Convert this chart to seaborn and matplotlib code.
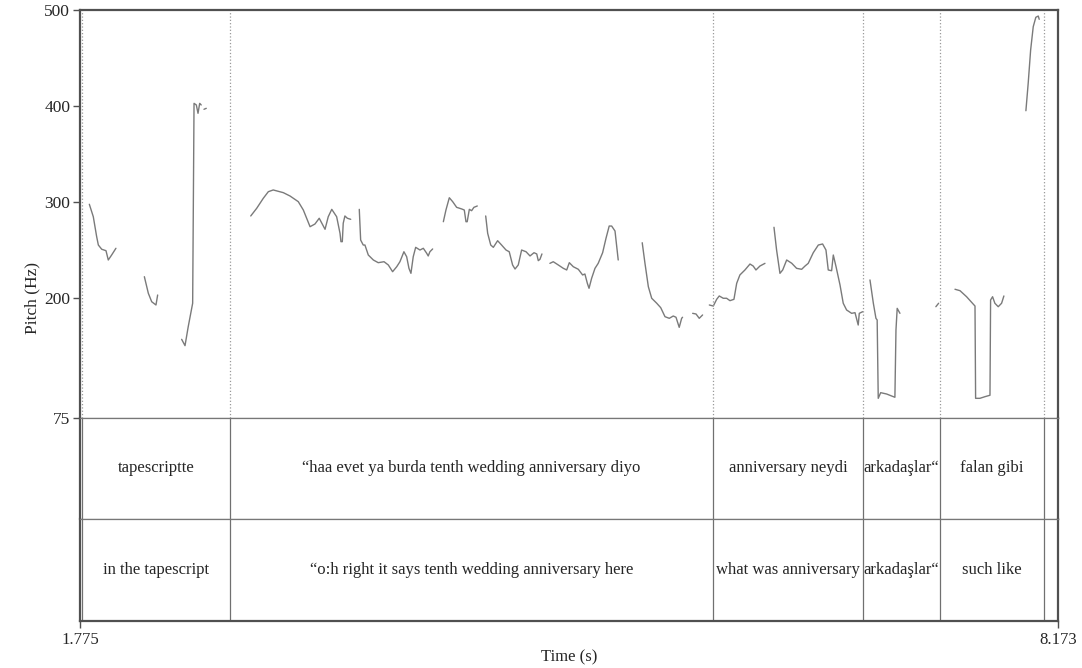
import numpy as np
import pandas as pd
import matplotlib
matplotlib.use('Agg')
import matplotlib.pyplot as plt
import seaborn as sns

## data: pitch contour pieces (time s, pitch Hz)
a_t = [1.836, 1.862, 1.884, 1.895, 1.917, 1.945, 1.960, 1.982, 2.010]
a_hz = [297.5, 284.5, 263.7, 255.0, 250.6, 249.1, 239.4, 244.6, 251.6]
b_t = [2.196, 2.222, 2.244, 2.272, 2.283]
b_hz = [222.0, 204.7, 195.9, 192.5, 202.9]
c_t = [2.440, 2.462, 2.483, 2.512, 2.521, 2.536, 2.547, 2.558, 2.568]
c_hz = [156.7, 150.1, 169.9, 194.3, 402.7, 401.0, 392.3, 402.7, 401.0]
c2_t = [2.586, 2.601]
c2_hz = [396.5, 397.5]
d_t = [2.892, 2.931, 2.974, 3.007, 3.039, 3.105, 3.149, 3.203, 3.236, 3.280, 3.312, 3.340,
       3.378, 3.399, 3.422, 3.454, 3.476, 3.482, 3.491, 3.497, 3.508, 3.524, 3.546]
d_hz = [285.3, 293.3, 303.7, 310.6, 312.4, 309.6, 306.1, 300.2, 291.5, 274.1, 276.9, 282.9,
        271.4, 284.5, 292.2, 284.5, 267.2, 258.5, 258.5, 277.7, 285.3, 282.9, 281.8]
e_t = [3.602, 3.611, 3.628, 3.639, 3.661, 3.694, 3.726, 3.764, 3.792, 3.820, 3.847, 3.868,
       3.894, 3.912, 3.927, 3.940, 3.955, 3.971, 3.999, 4.021, 4.043, 4.053, 4.064, 4.082]
e_hz = [292.2, 260.2, 255.0, 255.0, 244.6, 239.4, 236.6, 237.6, 234.2, 227.2, 232.4, 237.6,
        248.0, 242.8, 230.7, 225.5, 242.8, 252.6, 249.8, 251.6, 246.4, 243.6, 248.0, 250.9]
f_t = [4.152, 4.169, 4.191, 4.213, 4.239, 4.272, 4.289, 4.300, 4.308, 4.322, 4.337, 4.352, 4.374]
f_hz = [279.3, 291.5, 304.3, 300.2, 294.3, 292.6, 291.5, 279.3, 279.3, 292.2, 290.8, 294.3, 295.7]
g_t = [4.429, 4.442, 4.462, 4.479, 4.507, 4.533, 4.562, 4.583, 4.605, 4.621, 4.642, 4.664,
       4.693, 4.719, 4.745, 4.763, 4.773, 4.784, 4.797]
g_hz = [285.3, 267.2, 255.0, 252.6, 259.5, 255.0, 249.8, 248.0, 234.2, 230.0, 234.2, 249.8,
        248.0, 243.6, 247.0, 245.7, 238.7, 240.1, 245.7]
h_t = [4.849, 4.871, 4.904, 4.937, 4.959, 4.976, 5.002, 5.035, 5.063, 5.078, 5.094, 5.105,
       5.122, 5.144, 5.165, 5.194, 5.216, 5.237, 5.253, 5.275, 5.296]
h_hz = [235.9, 237.6, 234.2, 230.7, 229.0, 236.6, 232.4, 229.7, 223.8, 224.8, 215.1, 209.9,
        220.3, 230.7, 235.9, 247.0, 262.0, 274.8, 274.8, 269.6, 239.4]
i_t = [5.453, 5.471, 5.493, 5.515, 5.548, 5.574, 5.602, 5.630, 5.656, 5.674, 5.695, 5.711, 5.717]
i_hz = [257.4, 235.9, 211.6, 199.5, 194.3, 189.7, 180.3, 178.6, 181.0, 179.7, 169.2, 178.6, 179.7]
j_t = [5.783, 5.805, 5.826, 5.848]
j_hz = [183.8, 183.1, 178.6, 182.1]
k_t = [5.892, 5.918, 5.940, 5.957, 5.983, 6.005, 6.027, 6.053, 6.071, 6.092, 6.125, 6.158,
       6.179, 6.197, 6.223, 6.256]
k_hz = [192.5, 191.4, 198.4, 201.9, 199.5, 199.5, 197.0, 198.4, 215.1, 223.8, 229.0, 235.2,
        233.1, 229.0, 233.1, 235.9]
l_t = [6.315, 6.332, 6.354, 6.372, 6.398, 6.431, 6.463, 6.496, 6.518, 6.539, 6.572, 6.605,
       6.633, 6.655, 6.670, 6.692, 6.703, 6.721, 6.747, 6.768, 6.790, 6.823, 6.845, 6.866,
       6.873, 6.895]
l_hz = [273.5, 249.8, 225.5, 229.0, 239.4, 236.0, 230.7, 229.7, 233.1, 235.9, 247.0, 255.0,
        256.1, 249.8, 229.0, 228.2, 244.6, 232.4, 213.3, 194.3, 187.3, 183.8, 184.5, 171.6,
        183.8, 185.5]
m_t = [6.943, 6.965, 6.982, 6.990, 6.997, 7.013, 7.052, 7.085, 7.106, 7.113, 7.121, 7.139]
m_hz = [218.6, 194.3, 178.6, 176.9, 95.2, 101.1, 99.7, 97.6, 96.3, 166.4, 189.0, 183.8]
n_t = [7.374, 7.392]
n_hz = [190.7, 194.3]
o_t = [7.499, 7.532, 7.575, 7.618, 7.630, 7.634, 7.662, 7.695, 7.728, 7.732, 7.745, 7.760,
       7.782, 7.804, 7.819]
o_hz = [208.9, 207.4, 201.1, 193.5, 191.4, 95.2, 95.2, 96.9, 98.4, 197.7, 201.1, 194.3,
        190.7, 194.3, 201.9]
p_t = [7.963, 7.978, 7.994, 8.011, 8.028, 8.044, 8.050]
p_hz = [395.0, 423.6, 458.3, 482.6, 492.4, 493.7, 490.3]

## data: text grid
bounds = [1.786, 2.756, 5.914, 6.897, 7.401, 8.081]
tier1 = ['tapescriptte', '\u201chaa evet ya burda tenth wedding anniversary diyo',
         'anniversary neydi', 'arkadaşlar\u201c', 'falan gibi']
tier2 = ['in the tapescript', '\u201co:h right it says tenth wedding anniversary here',
         'what was anniversary', 'arkadaşlar\u201c', 'such like']
t_min, t_max = 1.775, 8.173

segs = [a_t, b_t, c_t, c2_t, d_t, e_t, f_t, g_t, h_t, i_t, j_t, k_t, l_t, m_t, n_t, o_t, p_t]
vals = [a_hz, b_hz, c_hz, c2_hz, d_hz, e_hz, f_hz, g_hz, h_hz, i_hz, j_hz, k_hz, l_hz, m_hz, n_hz, o_hz, p_hz]
rows = []
for k, (ts, hs) in enumerate(zip(segs, vals)):
    for t, h in zip(ts, hs):
        rows.append((k, t, h))
pitch = pd.DataFrame(rows, columns=['seg', 'time', 'hz'])

sns.set_style('white')
plt.rcParams['font.family'] = ['Liberation Serif', 'DejaVu Serif']

frame = '#505050'
fig = plt.figure(figsize=(10.82, 6.68), dpi=100)
L, W = 80 / 1082, 978 / 1082
ax = fig.add_axes([L, 250.3 / 668, W, 407.7 / 668])
ax1 = fig.add_axes([L, 149 / 668, W, 101.3 / 668])
ax2 = fig.add_axes([L, 47 / 668, W, 102 / 668])

sns.lineplot(data=pitch, x='time', y='hz', units='seg', estimator=None, sort=False,
             color='#7a7a7a', lw=1.0, ax=ax)
ax.set_xlim(t_min, t_max)
ax.set_ylim(75, 500)
ax.set_yticks([75, 200, 300, 400, 500])
ax.set_xticks([])
ax.set_xlabel('')
ax.set_ylabel('Pitch (Hz)', fontsize=12.5)
ax.yaxis.set_label_coords(-0.04, 0.294)
ax.tick_params(axis='y', direction='out', length=5, width=1, labelsize=12.5, pad=2, color=frame, left=True)
for b in bounds:
    ax.axvline(b, color='#999999', ls=':', lw=0.9)
for s in ['top', 'left', 'right']:
    ax.spines[s].set_color(frame)
    ax.spines[s].set_linewidth(1.6)
ax.spines['bottom'].set_color('#777777')
ax.spines['bottom'].set_linewidth(0.9)

for tax, labels in [(ax1, tier1), (ax2, tier2)]:
    tax.set_xlim(t_min, t_max)
    tax.set_ylim(0, 1)
    tax.set_yticks([])
    tax.set_xticks([])
    for b in bounds:
        tax.axvline(b, color='#707070', lw=0.9)
    for lo, hi, lab in zip(bounds[:-1], bounds[1:], labels):
        tax.text((lo + hi) / 2, 0.5, lab, ha='center', va='center', fontsize=12)
    for s in ['left', 'right']:
        tax.spines[s].set_color(frame)
        tax.spines[s].set_linewidth(1.6)
    tax.spines['top'].set_color('#777777')
    tax.spines['top'].set_linewidth(0.9)
    tax.spines['bottom'].set_color('#777777')
    tax.spines['bottom'].set_linewidth(0.9)

ax2.spines['bottom'].set_color(frame)
ax2.spines['bottom'].set_linewidth(1.6)
ax2.set_xticks([t_min, t_max])
ax2.set_xticklabels(['1.775', '8.173'])
ax2.tick_params(axis='x', direction='out', length=5, width=1, labelsize=12, pad=3, color=frame, bottom=True)
ax2.set_xlabel('Time (s)', fontsize=12, labelpad=1)

fig.savefig('out.png', dpi=100)
